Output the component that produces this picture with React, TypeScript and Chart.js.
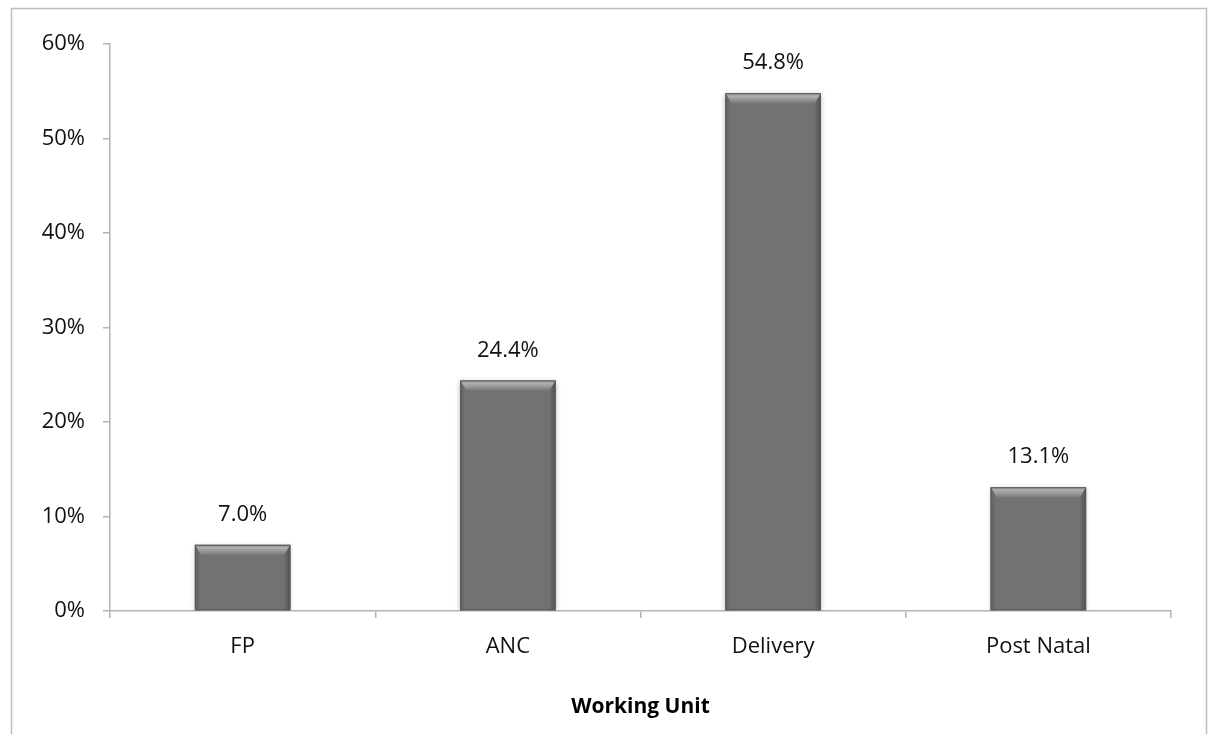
import { useEffect, useRef } from "react";
import { Chart, registerables } from "chart.js";

Chart.register(...registerables);

// Share of respondents by working unit (percent)
const categories = ["FP", "ANC", "Delivery", "Post Natal"];
const shares = [7.0, 24.4, 54.8, 13.1];
const yTickValues = [0, 10, 20, 30, 40, 50, 60];
const xAxisTitle = "Working Unit";

const FONT = "'Open Sans', 'DejaVu Sans', sans-serif";
const AXIS_GREY = "#b4b4b4";
const BAR_GREY = "#727272";

// Light frame around the whole chart, open at the bottom edge
const framePlugin = {
  id: "frame",
  beforeDraw(chart: Chart) {
    const { ctx, width, height } = chart;
    ctx.save();
    ctx.strokeStyle = "#bdbdbd";
    ctx.lineWidth = 1.5;
    ctx.beginPath();
    ctx.moveTo(11.5, height + 2);
    ctx.lineTo(11.5, 8.5);
    ctx.lineTo(width - 3.5, 8.5);
    ctx.lineTo(width - 3.5, height + 2);
    ctx.stroke();
    ctx.restore();
  },
};

// Soft drop shadow under bars, bevelled edges on top of them
const bevelPlugin = {
  id: "bevel",
  beforeDatasetsDraw(chart: Chart) {
    const ctx = chart.ctx;
    ctx.save();
    ctx.shadowColor = "rgba(0,0,0,0.28)";
    ctx.shadowBlur = 5;
    ctx.shadowOffsetX = 0;
    ctx.shadowOffsetY = 1;
  },
  afterDatasetsDraw(chart: Chart) {
    const ctx = chart.ctx;
    ctx.restore();
    const meta = chart.getDatasetMeta(0);
    meta.data.forEach((el: any) => {
      const { x, y, base, width } = el.getProps(["x", "y", "base", "width"], true);
      const l = x - width / 2;
      const r = x + width / 2;
      const t = y;
      const b = base;
      const bv = Math.min(10, (b - t) / 3);
      const side = 6;
      ctx.save();
      // top bevel
      let g = ctx.createLinearGradient(0, t, 0, t + bv);
      g.addColorStop(0, "#8a8a8a");
      g.addColorStop(0.3, "#b0b0b0");
      g.addColorStop(1, "#7a7a7a");
      ctx.fillStyle = g;
      ctx.beginPath();
      ctx.moveTo(l, t);
      ctx.lineTo(r, t);
      ctx.lineTo(r - side, t + bv);
      ctx.lineTo(l + side, t + bv);
      ctx.closePath();
      ctx.fill();
      // left edge
      g = ctx.createLinearGradient(l, 0, l + side, 0);
      g.addColorStop(0, "#606060");
      g.addColorStop(1, "#747474");
      ctx.fillStyle = g;
      ctx.beginPath();
      ctx.moveTo(l, t);
      ctx.lineTo(l + side, t + bv);
      ctx.lineTo(l + side, b);
      ctx.lineTo(l, b);
      ctx.closePath();
      ctx.fill();
      // right edge
      g = ctx.createLinearGradient(r - side, 0, r, 0);
      g.addColorStop(0, "#6e6e6e");
      g.addColorStop(1, "#505050");
      ctx.fillStyle = g;
      ctx.beginPath();
      ctx.moveTo(r, t);
      ctx.lineTo(r - side, t + bv);
      ctx.lineTo(r - side, b);
      ctx.lineTo(r, b);
      ctx.closePath();
      ctx.fill();
      // outline
      ctx.strokeStyle = "#5a5a5a";
      ctx.lineWidth = 1;
      ctx.strokeRect(l + 0.5, t + 0.5, width - 1, b - t - 1);
      ctx.restore();
    });
  },
};

// Value labels above each bar
const valueLabelPlugin = {
  id: "valueLabels",
  afterDatasetsDraw(chart: Chart) {
    const ctx = chart.ctx;
    const meta = chart.getDatasetMeta(0);
    ctx.save();
    ctx.font = `22px ${FONT}`;
    ctx.fillStyle = "#111111";
    ctx.textAlign = "center";
    ctx.textBaseline = "middle";
    meta.data.forEach((el: any, i: number) => {
      ctx.fillText(`${shares[i].toFixed(1)}%`, el.x, el.y - 30);
    });
    ctx.restore();
  },
};

export default function App() {
  const canvasRef = useRef<HTMLCanvasElement | null>(null);

  useEffect(() => {
    if (!canvasRef.current) return;
    const chart = new Chart(canvasRef.current, {
      type: "bar",
      data: {
        labels: categories,
        datasets: [
          {
            data: shares,
            backgroundColor: BAR_GREY,
            borderWidth: 0,
            categoryPercentage: 1,
            barPercentage: 0.36,
          },
        ],
      },
      options: {
        animation: false,
        responsive: true,
        maintainAspectRatio: false,
        layout: { padding: { left: 0, top: 44, right: 39, bottom: 0 } },
        plugins: {
          legend: { display: false },
          tooltip: { enabled: false },
        },
        scales: {
          x: {
            afterFit: (s: any) => {
              s.height = 123;
            },
            grid: {
              display: true,
              offset: true,
              drawOnChartArea: false,
              drawTicks: true,
              tickLength: 7,
              color: AXIS_GREY,
              lineWidth: 1.5,
            },
            border: { display: true, color: AXIS_GREY, width: 1.5 },
            ticks: {
              color: "#111111",
              font: { family: FONT, size: 22 },
              padding: 16,
            },
            title: {
              display: true,
              text: xAxisTitle,
              color: "#000000",
              font: { family: FONT, size: 21, weight: "bold" },
              padding: { top: 20, bottom: 14 },
            },
          },
          y: {
            min: yTickValues[0],
            max: yTickValues[yTickValues.length - 1],
            afterFit: (s: any) => {
              s.width = 110;
            },
            afterBuildTicks: (s: any) => {
              s.ticks = yTickValues.map((v) => ({ value: v }));
            },
            grid: {
              display: true,
              drawOnChartArea: false,
              drawTicks: true,
              tickLength: 7,
              color: AXIS_GREY,
              lineWidth: 1.5,
            },
            border: { display: true, color: AXIS_GREY, width: 1.5 },
            ticks: {
              color: "#111111",
              font: { family: FONT, size: 22 },
              padding: 18,
              callback: (v: any) => `${v}%`,
            },
          },
        },
      },
      plugins: [framePlugin, bevelPlugin, valueLabelPlugin],
    });
    return () => chart.destroy();
  }, []);

  return (
    <div style={{ position: "absolute", left: 0, top: 0, width: 1210, height: 734, background: "#ffffff" }}>
      <canvas ref={canvasRef} />
    </div>
  );
}
